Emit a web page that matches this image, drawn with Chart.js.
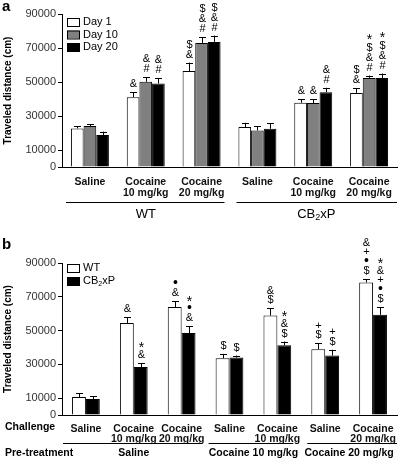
<!DOCTYPE html>
<html>
<head>
<meta charset="utf-8">
<script src="https://cdn.jsdelivr.net/npm/chart.js@4.4.1/dist/chart.umd.min.js"></script>
<style>
  body { margin: 0; background: #fff; }
  .panel { position: absolute; left: 0; width: 400px; }
  #panelA { top: 0; height: 230px; }
  #panelB { top: 230px; height: 232px; }
</style>
</head>
<body>
<div class="panel" id="panelA"><canvas id="chartA" width="400" height="230"></canvas></div>
<div class="panel" id="panelB"><canvas id="chartB" width="400" height="232"></canvas></div>
<script>
const FONT = "'Liberation Sans', Arial, Helvetica, sans-serif";
const yTicks = [0, 10000, 30000, 50000, 70000, 90000];

// panel a: Day 1 / Day 10 / Day 20
const labelsA = ['Saline', ['Cocaine', '10 mg/kg'], ['Cocaine', '20 mg/kg'], 'Saline', ['Cocaine', '10 mg/kg'], ['Cocaine', '20 mg/kg']];
const day1 = [22700, 41100, 56400, 23500, 37800, 43600];
const day10 = [24100, 50100, 73000, 21500, 37600, 52400];
const day20 = [18800, 49100, 73600, 22500, 44000, 52400];
const day1Err = [1300, 3000, 5000, 2500, 2100, 2600];
const day10Err = [1000, 2700, 3500, 2500, 2400, 1400];
const day20Err = [2000, 3300, 3700, 3100, 2600, 2600];
const day1Marks = [[], ['&'], ['$', '&'], [], ['&'], ['$', '&']];
const day10Marks = [[], ['&', '#'], ['$', '&', '#'], [], ['&'], ['*', '$', '&', '#']];
const day20Marks = [[], ['&', '#'], ['$', '&', '#'], [], ['&', '#'], ['*', '$', '&', '#']];

// panel b: WT / CB2xP
const labelsB = ['Saline', ['Cocaine', '10 mg/kg'], ['Cocaine', '20 mg/kg'], 'Saline', ['Cocaine', '10 mg/kg'], 'Saline', ['Cocaine', '20 mg/kg']];
const wt = [10700, 54500, 63900, 33600, 58900, 39000, 78500];
const cb = [9500, 28400, 48500, 34000, 41300, 35200, 59300];
const wtErr = [2300, 3500, 3600, 2600, 4400, 3500, 2000];
const cbErr = [1700, 2400, 4200, 1200, 2200, 3400, 4600];
const wtMarks = [[], ['&'], ['•', '&'], ['$'], ['&', '$'], ['+', '$'], ['&', '+', '•', '$']];
const cbMarks = [[], ['*', '&'], ['*', '•', '&'], ['$'], ['*', '&', '$'], ['+', '$'], ['*', '&', '+', '•', '$']];
const preTreatment = ['Saline', 'Cocaine 10 mg/kg', 'Cocaine 20 mg/kg'];

const text = (ctx, str, x, y, size, weight = 'normal', align = 'center') => {
  ctx.font = `${weight} ${size}px ${FONT}`;
  ctx.textAlign = align;
  ctx.textBaseline = 'middle';
  ctx.fillStyle = '#000';
  ctx.fillText(str, x, y);
};

// "CB2xP" with a subscript 2
const cbText = (ctx, x, y, size, align = 'center') => {
  const sub = Math.round(size * 0.68);
  ctx.font = `normal ${size}px ${FONT}`;
  const w1 = ctx.measureText('CB').width, w3 = ctx.measureText('xP').width;
  ctx.font = `normal ${sub}px ${FONT}`;
  const w2 = ctx.measureText('2').width;
  let x0 = align === 'center' ? x - (w1 + w2 + w3) / 2 : x;
  text(ctx, 'CB', x0, y, size, 'normal', 'left');
  text(ctx, '2', x0 + w1, y + size * 0.3, sub, 'normal', 'left');
  text(ctx, 'xP', x0 + w1 + w2, y, size, 'normal', 'left');
};

const hline = (ctx, x1, x2, y) => {
  ctx.beginPath();
  ctx.moveTo(x1, y + 0.5);
  ctx.lineTo(x2, y + 0.5);
  ctx.strokeStyle = '#000';
  ctx.lineWidth = 1;
  ctx.stroke();
};

const legendBox = (ctx, x, y, color) => {
  ctx.fillStyle = color;
  ctx.fillRect(x, y - 4, 12, 8);
  ctx.strokeStyle = '#000';
  ctx.lineWidth = 1;
  ctx.strokeRect(x + 0.5, y - 3.5, 12, 8);
};

// upper error bars plus the significance symbols stacked above them
const errorsAndMarks = {
  id: 'errorsAndMarks',
  afterDatasetsDraw(chart, args, opts) {
    const ctx = chart.ctx;
    const y = chart.scales.y;
    opts.errors.forEach((errs, di) => {
      const meta = chart.getDatasetMeta(di);
      const values = chart.data.datasets[di].data;
      meta.data.forEach((bar, i) => {
        const top = y.getPixelForValue(values[i] + errs[i]);
        const x = Math.round(bar.x) + 0.5;
        ctx.save();
        ctx.strokeStyle = '#000';
        ctx.lineWidth = 1;
        ctx.beginPath();
        ctx.moveTo(x, bar.y);
        ctx.lineTo(x, top);
        ctx.moveTo(x - 3.5, Math.round(top) + 0.5);
        ctx.lineTo(x + 3.5, Math.round(top) + 0.5);
        ctx.stroke();
        const marks = opts.marks[di][i];
        const n = marks.length;
        marks.forEach((m, k) => {
          const yy = top - 8 - (n - 1 - k) * opts.step;
          if (m === '*') text(ctx, m, x, yy + 3, 14);
          else if (m === '•') text(ctx, m, x, yy, 14);
          else text(ctx, m, x, yy, 11);
        });
        ctx.restore();
      });
    });
  }
};

const makeOptions = (padTop, xHeight, catPct, lineH, errors, marks, step, extra) => ({
  responsive: false,
  animation: false,
  layout: { padding: { left: 0, right: 3, top: padTop, bottom: 0 } },
  plugins: {
    legend: { display: false },
    tooltip: { enabled: false },
    errorsAndMarks: { errors, marks, step },
    extra: { draw: extra }
  },
  datasets: { bar: { categoryPercentage: catPct, barPercentage: 1, borderWidth: 1, borderColor: '#000' } },
  scales: {
    x: {
      afterFit: scale => { scale.height = xHeight; },
      grid: { display: false },
      border: { display: true, color: '#000', width: 1 },
      ticks: {
        autoSkip: false, maxRotation: 0, padding: 1, color: '#111',
        font: { family: FONT, size: 10.5, weight: 'bold', lineHeight: lineH }
      }
    },
    y: {
      min: 0, max: 90000,
      afterFit: scale => { scale.width = 62; },
      afterBuildTicks: scale => { scale.ticks = yTicks.map(v => ({ value: v })); },
      grid: { drawOnChartArea: false, tickLength: 4, color: '#000' },
      border: { display: true, color: '#000', width: 1 },
      ticks: { padding: 2, color: '#333', font: { family: FONT, size: 11 }, callback: v => String(v) },
      title: {
        display: true, text: 'Traveled distance (cm)', color: '#000',
        font: { family: FONT, size: 10, weight: 'bold' }, padding: { top: 2, bottom: 2 }
      }
    }
  }
});

const extraPlugin = {
  id: 'extra',
  afterDraw(chart, args, opts) { opts.draw(chart, chart.ctx); }
};

new Chart(document.getElementById('chartA'), {
  type: 'bar',
  data: {
    labels: labelsA,
    datasets: [
      { label: 'Day 1', data: day1, backgroundColor: '#fff' },
      { label: 'Day 10', data: day10, backgroundColor: '#808080' },
      { label: 'Day 20', data: day20, backgroundColor: '#000' }
    ]
  },
  options: makeOptions(14, 63, 0.68, 1.1, [day1Err, day10Err, day20Err], [day1Marks, day10Marks, day20Marks], 10, (chart, ctx) => {
    const xs = chart.scales.x;
    const w = (xs.right - xs.left) / labelsA.length;
    const edge = k => xs.left + k * w;
    text(ctx, 'a', 2, 7, 15, 'bold', 'left');
    [['Day 1', '#fff'], ['Day 10', '#808080'], ['Day 20', '#000']].forEach(([name, color], i) => {
      legendBox(ctx, 67, 22 + i * 12.5, color);
      text(ctx, name, 83, 22 + i * 12.5, 11, 'normal', 'left');
    });
    hline(ctx, edge(0) + 4, edge(3) - 5, 202);
    hline(ctx, edge(3) + 7, edge(6), 202);
    text(ctx, 'WT', (edge(0) + edge(3)) / 2, 214, 13);
    cbText(ctx, (edge(3) + edge(6)) / 2 + 3, 214, 13);
  }),
  plugins: [errorsAndMarks, extraPlugin]
});

new Chart(document.getElementById('chartB'), {
  type: 'bar',
  data: {
    labels: labelsB,
    datasets: [
      { label: 'WT', data: wt, backgroundColor: '#fff' },
      { label: 'CB2xP', data: cb, backgroundColor: '#000' }
    ]
  },
  options: makeOptions(33, 47, 0.58, 0.98, [wtErr, cbErr], [wtMarks, cbMarks], 9.5, (chart, ctx) => {
    const xs = chart.scales.x;
    const w = (xs.right - xs.left) / labelsB.length;
    const edge = k => xs.left + k * w;
    text(ctx, 'b', 2, 15, 15, 'bold', 'left');
    legendBox(ctx, 67, 38, '#fff');
    text(ctx, 'WT', 83, 38, 11, 'normal', 'left');
    legendBox(ctx, 67, 51, '#000');
    cbText(ctx, 83, 51, 11, 'left');
    text(ctx, 'Challenge', 5, 197, 10.5, 'bold', 'left');
    text(ctx, 'Pre-treatment', 5, 223, 10.5, 'bold', 'left');
    hline(ctx, edge(0) + 1, edge(3) - 4, 213);
    hline(ctx, edge(3) + 3, edge(5) - 8, 213);
    hline(ctx, edge(5) + 6, edge(7), 213);
    text(ctx, preTreatment[0], edge(1.5), 223, 10.5, 'bold');
    text(ctx, preTreatment[1], edge(4), 223, 10.5, 'bold');
    text(ctx, preTreatment[2], edge(6), 223, 10.5, 'bold');
  }),
  plugins: [errorsAndMarks, extraPlugin]
});
</script>
</body>
</html>
